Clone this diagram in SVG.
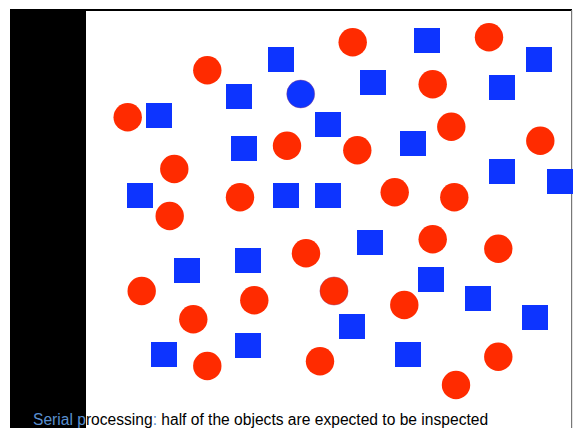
<svg xmlns="http://www.w3.org/2000/svg" width="573" height="428" viewBox="0 0 573 428">
<style>
.r{fill:#FF2B00}
.b{fill:#0D34FF}
.t{font-family:"Liberation Sans",Arial,sans-serif;font-size:15.6px}
.blue{fill:#5A8FCF}
</style>
<rect x="0" y="0" width="573" height="428" fill="#fff"/>
<g id="frame">
<rect x="10" y="9" width="562" height="2" fill="#000"/>
<rect x="10" y="9" width="76" height="419" fill="#000"/>
<rect x="571" y="10" width="1.2" height="418" fill="#777"/>
</g>
<g id="squares" class="b">
<rect x="226" y="84" width="26" height="25"/>
<rect x="268" y="47" width="26" height="25"/>
<rect x="146" y="103" width="26" height="25"/>
<rect x="231" y="136" width="26" height="25"/>
<rect x="127" y="183" width="26" height="25"/>
<rect x="273" y="183" width="26" height="25"/>
<rect x="315" y="183" width="26" height="25"/>
<rect x="414" y="28" width="26" height="25"/>
<rect x="526" y="47" width="26" height="25"/>
<rect x="360" y="70" width="26" height="25"/>
<rect x="489" y="75" width="26" height="25"/>
<rect x="315" y="112" width="26" height="25"/>
<rect x="400" y="131" width="26" height="25"/>
<rect x="489" y="159" width="26" height="25"/>
<rect x="547" y="169" width="26" height="25"/>
<rect x="174" y="258" width="26" height="25"/>
<rect x="235" y="248" width="26" height="25"/>
<rect x="151" y="342" width="26" height="25"/>
<rect x="235" y="333" width="26" height="25"/>
<rect x="357" y="230" width="26" height="25"/>
<rect x="418" y="267" width="26" height="25"/>
<rect x="465" y="286" width="26" height="25"/>
<rect x="522" y="305" width="26" height="25"/>
<rect x="339" y="314" width="26" height="25"/>
<rect x="395" y="342" width="26" height="25"/>
</g>
<g id="circles" class="r">
<circle cx="207.3" cy="70.3" r="14.2"/>
<circle cx="127.7" cy="117.3" r="14.2"/>
<circle cx="287" cy="145.7" r="14.2"/>
<circle cx="174.3" cy="169" r="14.2"/>
<circle cx="240" cy="197.3" r="14.2"/>
<circle cx="169.7" cy="216" r="14.2"/>
<circle cx="352.7" cy="42.3" r="14.2"/>
<circle cx="489" cy="37.3" r="14.2"/>
<circle cx="432.7" cy="84.3" r="14.2"/>
<circle cx="451.3" cy="126.7" r="14.2"/>
<circle cx="357.3" cy="150.3" r="14.2"/>
<circle cx="540.3" cy="140.7" r="14.2"/>
<circle cx="394.7" cy="192.3" r="14.2"/>
<circle cx="454.3" cy="197.3" r="14.2"/>
<circle cx="141.7" cy="291" r="14.2"/>
<circle cx="254.3" cy="300.3" r="14.2"/>
<circle cx="193.3" cy="319.3" r="14.2"/>
<circle cx="207.3" cy="366" r="14.2"/>
<circle cx="306" cy="253.3" r="14.2"/>
<circle cx="432.7" cy="239.3" r="14.2"/>
<circle cx="498.3" cy="248.7" r="14.2"/>
<circle cx="334" cy="291" r="14.1" stroke="#8a3070" stroke-width="0.4"/>
<circle cx="404.3" cy="305" r="14.2"/>
<circle cx="320" cy="361.3" r="14.2"/>
<circle cx="498.3" cy="356.7" r="14.2"/>
<circle cx="456" cy="385" r="14.2"/>
</g>
<g id="target">
<circle cx="300.7" cy="94" r="14" class="b" stroke="#a04070" stroke-width="0.4"/>
</g>
<g id="caption">
<text class="t" x="33" y="425"><tspan class="blue">Serial p</tspan>rocessing<tspan class="blue">:</tspan> half of the objects are expected to be inspected</text>
</g>
</svg>
